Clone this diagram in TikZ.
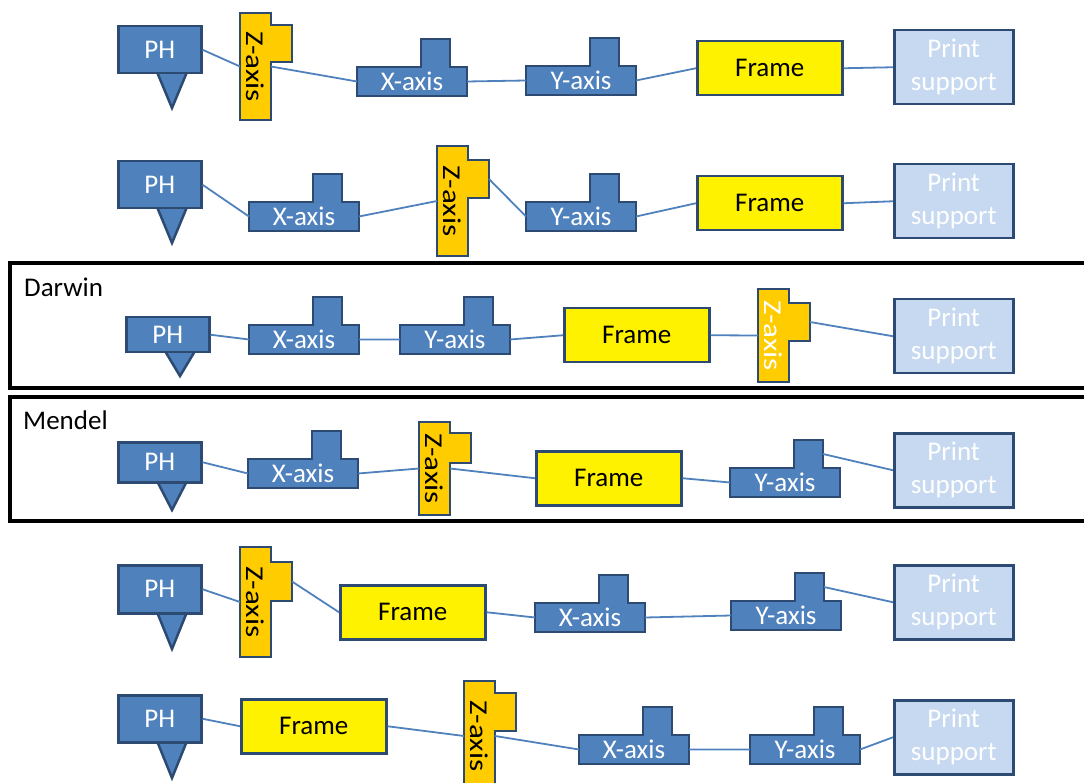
\documentclass[tikz,border=0pt]{standalone}
\usepackage{fontspec}
\setmainfont{Carlito}
\usepackage{graphicx}
\usepackage{tikz}
\usetikzlibrary{calc}
\definecolor{axblue}{RGB}{79,129,189}
\definecolor{edgeblue}{RGB}{44,74,114}
\definecolor{zorange}{RGB}{255,204,0}
\definecolor{psblue}{RGB}{198,217,241}
% print head: box with its nozzle below (name, left, top, height, nozzle length)
\newcommand{\phblk}[5]{%
  \draw[blkline, fill=axblue] ({#2+40},{#3+#4}) -- ({#2+70},{#3+#4}) -- ({#2+55},{#3+#4+#5}) -- cycle;
  \node[phbox, minimum height=#4, anchor=north west] (#1) at (#2,#3) {PH};
}
% x/y carriage: base with a tab on top (name, left, top of base, text)
\newcommand{\axblk}[4]{%
  \draw[blkline, fill=axblue] (#2,{#3+29}) -- (#2,#3) -- ({#2+64},#3) -- ({#2+64},{#3-28})
    -- ({#2+93},{#3-28}) -- ({#2+93},#3) -- ({#2+110},#3) -- ({#2+110},{#3+29}) -- cycle;
  \node[axbox, anchor=north west] (#1) at (#2,#3) {#4};
  \coordinate (#1t) at ({#2+93},{#3-14});
}
% z carriage: upright bar with a tab on the right (name, left, top, height, tab offset, tab height, text colour)
\newcommand{\zblk}[7]{%
  \draw[blkline, fill=zorange] (#2,#3) -- ({#2+31},#3) -- ({#2+31},{#3+#5}) -- ({#2+52},{#3+#5})
    -- ({#2+52},{#3+#5+#6}) -- ({#2+31},{#3+#5+#6}) -- ({#2+31},{#3+#4}) -- (#2,{#3+#4}) -- cycle;
  \node[zbox, minimum height=#4, text=#7, anchor=north west] (#1) at (#2,#3)
    {\rotatebox{-90}{\scalebox{1.15}[0.95]{Z-axis}}};
  \coordinate (#1t) at ({#2+52},{#3+#5+#6/2});
}
\begin{document}
\begin{tikzpicture}[
  x=1pt, y=-1pt,
  font=\fontsize{27}{33}\selectfont,
  blkline/.style={draw=edgeblue, line width=2.5pt},
  phbox/.style={blkline, fill=axblue, text=white, minimum width=83, inner sep=0pt},
  axbox/.style={text=white, minimum width=110, minimum height=29, inner sep=0pt, outer sep=0pt},
  zbox/.style={minimum width=31, inner sep=0pt, outer sep=0pt},
  frmbox/.style={blkline, fill=yellow, minimum width=145, minimum height=54, inner sep=0pt},
  psbox/.style={blkline, fill=psblue, text=white, minimum width=119, minimum height=74, inner sep=0pt, align=center},
  link/.style={axblue, line width=1.8pt},
  grp/.style={draw=black, line width=4pt},
  grplbl/.style={anchor=base west, inner sep=0pt},
]
\useasboundingbox (0,0) rectangle (1084,783);
\clip (0,0) rectangle (1084,783);
% row 1
\phblk{ph1}{117}{25}{47}{36}
\zblk{z1}{240}{13}{107}{12}{37}{black}
\axblk{x1}{357}{67}{X-axis}
\axblk{y1}{526}{66}{Y-axis}
\node[frmbox, anchor=north west] (fr1) at (696,40) {Frame};
\node[psbox, anchor=north west] (ps1) at (893,29) {Print\\support};
\draw[link] (ph1.east) -- (z1.west) (z1.east) -- (x1.west) (x1.east) -- (y1.west)
  (y1.east) -- (fr1.west) (fr1.east) -- (ps1.west);
% row 2
\phblk{ph2}{117}{160}{47}{36}
\axblk{x2}{249}{202}{X-axis}
\zblk{z2}{437}{146}{110}{14}{38}{black}
\axblk{y2}{526}{202}{Y-axis}
\node[frmbox, anchor=north west] (fr2) at (696,175) {Frame};
\node[psbox, anchor=north west] (ps2) at (893,163) {Print\\support};
\draw[link] (ph2.east) -- (x2.west) (x2.east) -- (z2.west) (z2t) -- (y2.west)
  (y2.east) -- (fr2.west) (fr2.east) -- (ps2.west);
% row 3: Darwin
\draw[grp] (10,263) rectangle (1110,388);
\node[grplbl] (darwin) at (24,297) {Darwin};
\phblk{ph3}{125}{316}{35}{25}
\axblk{x3}{249}{325}{X-axis}
\axblk{y3}{400}{325}{Y-axis}
\node[frmbox, anchor=north west] (fr3) at (563,307) {Frame};
\zblk{z3}{758}{289}{93}{14}{38}{white}
\node[psbox, anchor=north west] (ps3) at (893,298) {Print\\support};
\draw[link] (ph3.east) -- (x3.west) (x3.east) -- (y3.west) (y3.east) -- (fr3.west)
  (fr3.east) -- (z3.west) (z3t) -- (ps3.west);
% row 4: Mendel
\draw[grp] (10,397) rectangle (1110,521);
\node[grplbl] (mendel) at (23,429) {Mendel};
\phblk{ph4}{117}{441}{40}{29}
\axblk{x4}{248}{459}{X-axis}
\zblk{z4}{419}{422}{93}{11}{30}{black}
\node[frmbox, anchor=north west] (fr4) at (535,450) {Frame};
\axblk{y4}{730}{468}{Y-axis}
\node[psbox, anchor=north west] (ps4) at (893,432) {Print\\support};
\draw[link] (ph4.east) -- (x4.west) (x4.east) -- (z4.west) (z4.east) -- (fr4.west)
  (fr4.east) -- (y4.west) (y4t) -- (ps4.west);
% row 5
\phblk{ph5}{117}{564}{48}{37}
\zblk{z5}{240}{547}{110}{15}{39}{black}
\node[frmbox, anchor=north west] (fr5) at (339,584) {Frame};
\axblk{x5}{535}{603}{X-axis}
\axblk{y5}{731}{601}{Y-axis}
\node[psbox, anchor=north west] (ps5) at (893,564) {Print\\support};
\draw[link] (ph5.east) -- (z5.west) (z5t) -- (fr5.west) (fr5.east) -- (x5.west)
  (x5.east) -- (y5.west) (y5t) -- (ps5.west);
% row 6
\phblk{ph6}{117}{694}{47}{37}
\node[frmbox, anchor=north west] (fr6) at (240,698) {Frame};
\zblk{z6}{464}{681}{110}{12}{38}{black}
\axblk{x6}{579}{735}{X-axis}
\axblk{y6}{750}{735}{Y-axis}
\node[psbox, anchor=north west] (ps6) at (893,699) {Print\\support};
\draw[link] (ph6.east) -- (fr6.west) (fr6.east) -- (z6.west) (z6.east) -- (x6.west)
  (x6.east) -- (y6.west) (y6.east) -- (ps6.west);
\end{tikzpicture}
\end{document}
